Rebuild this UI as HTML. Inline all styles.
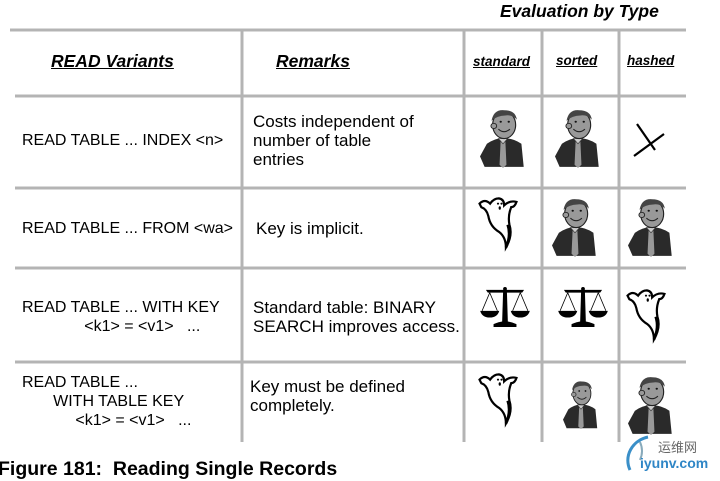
<!DOCTYPE html>
<html><head><meta charset="utf-8"><style>
body{margin:0;width:720px;height:481px;background:#fff;overflow:hidden;position:relative;font-family:"Liberation Sans",Arial,sans-serif;color:#000}
.t{position:absolute;font-size:16px;line-height:19px;white-space:pre}
.r{font-size:17px}
.h{position:absolute;font-weight:bold;font-style:italic;text-decoration:underline;white-space:pre}
</style></head><body>
<svg width="720" height="481" style="position:absolute;left:0;top:0">
<defs>
<symbol id="man" viewBox="0 0 40 60" preserveAspectRatio="none">
<path d="M0 48 L6 36 Q14 30 20 31 Q28 30 36 36 L38 58 L4 58 Z" fill="#2a2a2a"/>
<path d="M18 32 L22 32 L23 56 L20 59 L17 56 Z" fill="#999"/>
<path d="M16 31 L20 36 L24 31 Z" fill="#ccc" stroke="#333" stroke-width=".6"/>
<ellipse cx="21" cy="18" rx="10" ry="13" fill="#999" stroke="#222" stroke-width="1"/>
<path d="M10 14 Q12 3 21 4 Q31 4 32 13 Q28 8 22 9 Q15 9 10 14Z" fill="#444"/>
<circle cx="12" cy="19" r="2.5" fill="#999" stroke="#222" stroke-width=".8"/>
<path d="M16 22 Q21 27 26 22" fill="none" stroke="#222" stroke-width="1"/>
<circle cx="18" cy="15" r="1" fill="#111"/><circle cx="25" cy="15" r="1" fill="#111"/>
</symbol>
<symbol id="ghost" viewBox="0 0 50 60">
<path d="M4 8 Q10 2 16 8 Q20 2 26 2 Q32 3 32 10 Q38 4 46 6 Q44 12 40 12 Q36 22 38 32 Q42 44 34 58 Q34 46 26 40 Q16 34 14 22 Q12 14 6 12 Z" fill="#fff" stroke="#000" stroke-width="2.5"/>
<path d="M34 58 Q40 44 36 32" fill="none" stroke="#000" stroke-width="3"/>
<circle cx="25" cy="8" r="1.2"/><circle cx="29" cy="8" r="1.2"/><ellipse cx="27" cy="13" rx="1.3" ry="2"/>
</symbol>
<symbol id="scale" viewBox="0 0 52 44">
<path d="M6 4 L46 4 L44 7 L8 7Z" fill="#000"/><circle cx="26" cy="3" r="2"/>
<path d="M24 6 L28 6 L29 38 L23 38Z" fill="#000"/>
<path d="M14 40 Q26 34 38 40 L38 43 L14 43Z" fill="#000"/>
<path d="M10 7 L2 26 M10 7 L18 26 M42 7 L34 26 M42 7 L50 26" stroke="#000" stroke-width=".8"/>
<path d="M0 26 L20 26 Q18 33 10 33 Q2 33 0 26Z M32 26 L52 26 Q50 33 42 33 Q34 33 32 26Z" fill="#000"/>
</symbol>
</defs>
<g stroke="#b4b4b4" stroke-width="3">
<line x1="10" y1="30" x2="686" y2="30"/>
<line x1="15" y1="96" x2="686" y2="96"/>
<line x1="15" y1="188" x2="686" y2="188"/>
<line x1="15" y1="268" x2="686" y2="268"/>
<line x1="15" y1="362" x2="686" y2="362"/>
<line x1="242" y1="30" x2="242" y2="442"/>
<line x1="464" y1="30" x2="464" y2="442"/>
<line x1="542" y1="30" x2="542" y2="442"/>
<line x1="619" y1="30" x2="619" y2="442"/>
</g>
<use href="#man" x="480" y="106" width="46" height="63"/>
<use href="#man" x="555" y="106" width="46" height="63"/>
<path d="M637 124 L655 150 M634 156 L664 134" stroke="#000" stroke-width="2.2"/>
<use href="#ghost" x="476" y="193" width="44" height="60"/>
<use href="#man" x="552" y="195" width="46" height="63"/>
<use href="#man" x="628" y="195" width="46" height="63"/>
<use href="#scale" x="480" y="286" width="50" height="42"/>
<use href="#scale" x="558" y="286" width="50" height="42"/>
<use href="#ghost" x="624" y="285" width="44" height="60"/>
<use href="#ghost" x="476" y="369" width="44" height="60"/>
<use href="#man" x="563" y="378" width="36" height="52"/>
<use href="#man" x="628" y="373" width="46" height="63"/>
<path d="M640 442 A22 22 0 0 1 640 460" fill="none" stroke="#8ab" stroke-width="2"/>
<path d="M648 437 A26 24 0 0 0 630 470" fill="none" stroke="#3a8fc8" stroke-width="3"/>
</svg>
<div class="h" style="left:500px;top:1px;font-size:17.5px;text-decoration:none">Evaluation by Type</div>
<div class="h" style="left:51px;top:51px;font-size:17.5px">READ Variants</div>
<div class="h" style="left:276px;top:51px;font-size:17.5px">Remarks</div>
<div class="h" style="left:473px;top:54px;font-size:13.5px">standard</div>
<div class="h" style="left:556px;top:53px;font-size:13.5px">sorted</div>
<div class="h" style="left:627px;top:53px;font-size:13.5px">hashed</div>
<div class="t" style="left:22px;top:131px">READ TABLE ... INDEX &lt;n&gt;</div>
<div class="t r" style="left:253px;top:112px">Costs independent of
number of table
entries</div>
<div class="t" style="left:22px;top:219px">READ TABLE ... FROM &lt;wa&gt;</div>
<div class="t r" style="left:256px;top:219px">Key is implicit.</div>
<div class="t" style="left:22px;top:298px">READ TABLE ... WITH KEY
              &lt;k1&gt; = &lt;v1&gt;   ...</div>
<div class="t r" style="left:253px;top:298px">Standard table: BINARY
SEARCH improves access.</div>
<div class="t" style="left:22px;top:373px">READ TABLE ...
       WITH TABLE KEY
            &lt;k1&gt; = &lt;v1&gt;   ...</div>
<div class="t r" style="left:250px;top:377px">Key must be defined
completely.</div>
<div style="position:absolute;left:-2px;top:458px;font-size:19.5px;font-weight:bold;white-space:pre">Figure 181:  Reading Single Records</div>
<div style="position:absolute;left:658px;top:437px;font-size:13px;color:#666;font-family:'Liberation Sans','Noto Sans CJK SC',sans-serif">运维网</div>
<div style="position:absolute;left:640px;top:455px;font-size:14px;font-weight:bold;color:#2f86c6">iyunv.com</div>
</body></html>
